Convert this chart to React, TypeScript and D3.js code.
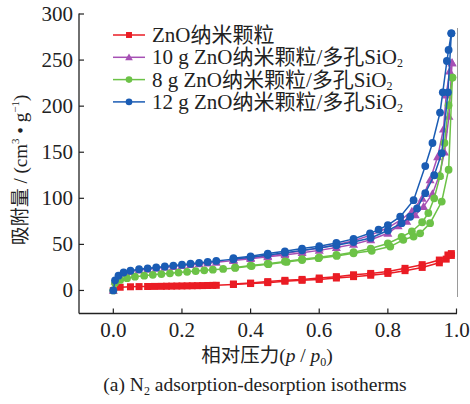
import React from "react";
import * as d3 from "d3";

const xTicks = [0.0, 0.2, 0.4, 0.6, 0.8, 1.0];
const yTicks = [0, 50, 100, 150, 200, 250, 300];

const seriesNames = ["ZnO纳米颗粒", "10 g ZnO纳米颗粒/多孔SiO", "8 g ZnO纳米颗粒/多孔SiO", "12 g ZnO纳米颗粒/多孔SiO"];

// ZnO nanoparticles (red)
const znoAdsP = [0, 0.02, 0.05, 0.075, 0.1, 0.12, 0.14, 0.155, 0.17, 0.185, 0.2, 0.215, 0.23, 0.245, 0.26, 0.275, 0.29, 0.3, 0.35, 0.4, 0.45, 0.5, 0.55, 0.6, 0.65, 0.7, 0.75, 0.8, 0.85, 0.9, 0.95, 0.97, 0.985];
const znoAdsV = [0, 3.5, 4, 4.2, 4.3, 4.4, 4.5, 4.6, 4.7, 4.8, 4.9, 5, 5.1, 5.2, 5.3, 5.4, 5.5, 5.6, 6.5, 7.5, 8.5, 10, 11, 12, 13.5, 15, 16.5, 18.5, 21.5, 25, 30, 34, 38];
const znoDesP = [0.985, 0.975, 0.95, 0.9, 0.85, 0.8, 0.75, 0.7, 0.65, 0.6, 0.55, 0.5, 0.45, 0.4, 0.35];
const znoDesV = [40, 38.5, 33, 28, 24, 20.5, 18.5, 17, 15, 13.5, 12, 11, 9.6, 8, 7];

// 10 g (purple)
const g10AdsP = [0, 0.005, 0.015, 0.03, 0.05, 0.075, 0.1, 0.125, 0.15, 0.175, 0.2, 0.225, 0.25, 0.275, 0.3, 0.35, 0.4, 0.45, 0.5, 0.55, 0.6, 0.65, 0.7, 0.75, 0.8, 0.83, 0.855, 0.88, 0.904, 0.93, 0.95, 0.965, 0.978, 0.987];
const g10AdsV = [0, 10, 15, 18.5, 20.5, 22, 23, 24, 25, 26, 27, 28, 28.8, 29.6, 30.5, 32.5, 34.5, 36.5, 38.5, 41, 43.5, 46.5, 50, 55, 62, 70, 75, 82, 91, 105, 125, 150, 189, 247];
const g10DesP = [0.987, 0.98, 0.97, 0.962, 0.945, 0.923, 0.9, 0.87, 0.84, 0.8, 0.75, 0.7, 0.65, 0.6, 0.55, 0.5, 0.45, 0.4, 0.35];
const g10DesV = [247, 238, 212, 175, 145, 120, 100, 86, 77, 68, 60, 54, 49.5, 46, 43, 40, 37.5, 35.5, 33.5];

// 8 g (green)
const g8AdsP = [0, 0.005, 0.02, 0.04, 0.063, 0.09, 0.115, 0.14, 0.165, 0.19, 0.215, 0.24, 0.265, 0.29, 0.32, 0.355, 0.403, 0.452, 0.505, 0.55, 0.598, 0.651, 0.7, 0.753, 0.807, 0.845, 0.875, 0.894, 0.923, 0.957, 0.977, 0.988];
const g8AdsV = [0, 8, 11.4, 13.3, 15, 16, 17, 17.8, 18.6, 19.4, 20.2, 21, 21.8, 22.6, 23.4, 24.5, 26.5, 28.5, 31, 33, 35, 37.5, 40.4, 43, 47.6, 55, 58.5, 62, 73, 96.5, 131, 231];
const g8DesP = [0.988, 0.977, 0.965, 0.952, 0.935, 0.918, 0.9, 0.87, 0.84, 0.8, 0.75, 0.7, 0.65, 0.6, 0.55, 0.5, 0.45, 0.4, 0.355];
const g8DesV = [231, 201, 160, 124, 100, 84, 74, 64, 58, 51, 45.5, 41.5, 38.5, 36, 34, 31.5, 29, 27, 25];

// 12 g (blue)
const g12AdsP = [0, 0.005, 0.015, 0.03, 0.05, 0.075, 0.1, 0.125, 0.15, 0.175, 0.2, 0.225, 0.25, 0.275, 0.3, 0.35, 0.4, 0.45, 0.5, 0.55, 0.6, 0.65, 0.7, 0.75, 0.8, 0.84, 0.865, 0.885, 0.909, 0.935, 0.957, 0.975, 0.985];
const g12AdsV = [0, 11, 16, 19.5, 21.5, 23, 24, 25, 26, 27, 28, 29, 30, 31, 32, 34, 36, 38.5, 41, 43.5, 46, 49, 52.5, 57, 65, 73, 80, 89, 105.6, 125, 149, 215, 279];
const g12DesP = [0.985, 0.977, 0.972, 0.96, 0.952, 0.93, 0.909, 0.875, 0.836, 0.8, 0.773, 0.748, 0.7, 0.65, 0.6, 0.55, 0.5, 0.45, 0.4, 0.35];
const g12DesV = [279, 261, 249, 215, 193, 160, 135, 98, 80, 71, 66, 62, 56, 51.5, 48, 45.5, 42.5, 40, 37, 35];

const FONT = "'Liberation Serif', 'Times New Roman', 'Noto Sans CJK SC', serif";

type Series = { name: string; sub: boolean; color: string; marker: string; branches: [number, number][][] };

const zip = (p: number[], v: number[]) => p.map((x, i) => [x, v[i]] as [number, number]);

const series: Series[] = [
  { name: seriesNames[0], sub: false, color: "#ea1c24", marker: "square", branches: [zip(znoAdsP, znoAdsV), zip(znoDesP, znoDesV)] },
  { name: seriesNames[1], sub: true, color: "#a650b4", marker: "triangle", branches: [zip(g10AdsP, g10AdsV), zip(g10DesP, g10DesV)] },
  { name: seriesNames[2], sub: true, color: "#6cc247", marker: "circle", branches: [zip(g8AdsP, g8AdsV), zip(g8DesP, g8DesV)] },
  { name: seriesNames[3], sub: true, color: "#1a5cb4", marker: "circle", branches: [zip(g12AdsP, g12AdsV), zip(g12DesP, g12DesV)] },
];

const drawOrder = [0, 1, 2, 3];

function Marker({ type, x, y, color, k = 1 }: { type: string; x: number; y: number; color: string; k?: number }) {
  if (type === "square") { const h = 3.5 * k; return <rect x={x - h} y={y - h} width={2 * h} height={2 * h} fill={color} />; }
  if (type === "triangle") {
    const s = 4.5 * k;
    return <path d={`M${x},${y - s}L${x + s},${y + s * 0.75}L${x - s},${y + s * 0.75}Z`} fill={color} />;
  }
  return <circle cx={x} cy={y} r={3.9 * k} fill={color} />;
}

export default function App() {
  const W = 470, H = 404;
  const x = d3.scaleLinear().domain([-0.1, 1.0]).range([79, 456.5]);
  const y = d3.scaleLinear().domain([-25, 300]).range([313.5, 14]);
  const line = d3.line<[number, number]>().x(d => x(d[0])).y(d => y(d[1]));
  const x0 = x(-0.1), yb = y(-25);

  return (
    <svg width={W} height={H} style={{ position: "absolute", left: 0, top: 0, background: "#fff" }} fontFamily={FONT}>
      {/* right light border */}
      <line x1={457.5} x2={457.5} y1={28} y2={297} stroke="#9a9a9a" strokeWidth={1} />
      {/* axes */}
      <line x1={x0} x2={x0} y1={y(300) - 0.5} y2={yb} stroke="#222" strokeWidth={1.3} />
      <line x1={x0} x2={x(1.0) + 0.5} y1={yb} y2={yb} stroke="#222" strokeWidth={1.3} />
      {yTicks.map(t => (
        <g key={"y" + t}>
          <line x1={x0} x2={x0 + 5} y1={y(t)} y2={y(t)} stroke="#222" strokeWidth={1.2} />
          <text x={73} y={y(t) + 7} textAnchor="end" fontSize={21} fill="#222">{t}</text>
        </g>
      ))}
      {xTicks.map(t => (
        <g key={"x" + t}>
          <line x1={x(t)} x2={x(t)} y1={yb} y2={yb - 5} stroke="#222" strokeWidth={1.2} />
          <text x={x(t)} y={337} textAnchor="middle" fontSize={21} fill="#222">{d3.format(".1f")(t)}</text>
        </g>
      ))}
      {/* data */}
      {drawOrder.map(i => {
        const s = series[i];
        return (
          <g key={s.name}>
            {s.branches.map((b, j) => (
              <path key={j} d={line(b) || ""} fill="none" stroke={s.color} strokeWidth={1.5} />
            ))}
            {s.branches.map((b, j) =>
              b.map((d, k) => <Marker key={j + "-" + k} type={s.marker} x={x(d[0])} y={y(d[1])} color={s.color} />)
            )}
          </g>
        );
      })}
      {/* legend */}
      {series.map((s, i) => {
        const ly = 35 + i * 22.3;
        return (
          <g key={"lg" + i}>
            <line x1={113} x2={145} y1={ly} y2={ly} stroke={s.color} strokeWidth={1.5} />
            <Marker type={s.marker} x={129} y={ly} color={s.color} k={0.85} />
            <text x={152} y={ly + 7} fontSize={21} fill="#222">
              {s.name}
              {s.sub && <tspan fontSize={12} dy={3}>2</tspan>}
            </text>
          </g>
        );
      })}
      {/* y label */}
      <text transform="translate(27,170) rotate(-90)" textAnchor="middle" fontSize={19} fill="#222">
        吸附量 / (cm<tspan fontSize={11} dy={-8}>3</tspan><tspan dy={8}> • g</tspan><tspan fontSize={11} dy={-8}>−1</tspan><tspan dy={8}>)</tspan>
      </text>
      {/* x label */}
      <text x={267} y={362} textAnchor="middle" fontSize={19.5} fill="#222">
        相对压力(<tspan fontStyle="italic">p</tspan> / <tspan fontStyle="italic">p</tspan><tspan fontSize={12} dy={4}>0</tspan><tspan dy={-4}>)</tspan>
      </text>
      {/* caption */}
      <text x={255} y={391} textAnchor="middle" fontSize={19.5} fill="#222">
        (a) N<tspan fontSize={12} dy={4}>2</tspan><tspan dy={-4}> adsorption-desorption isotherms</tspan>
      </text>
    </svg>
  );
}
